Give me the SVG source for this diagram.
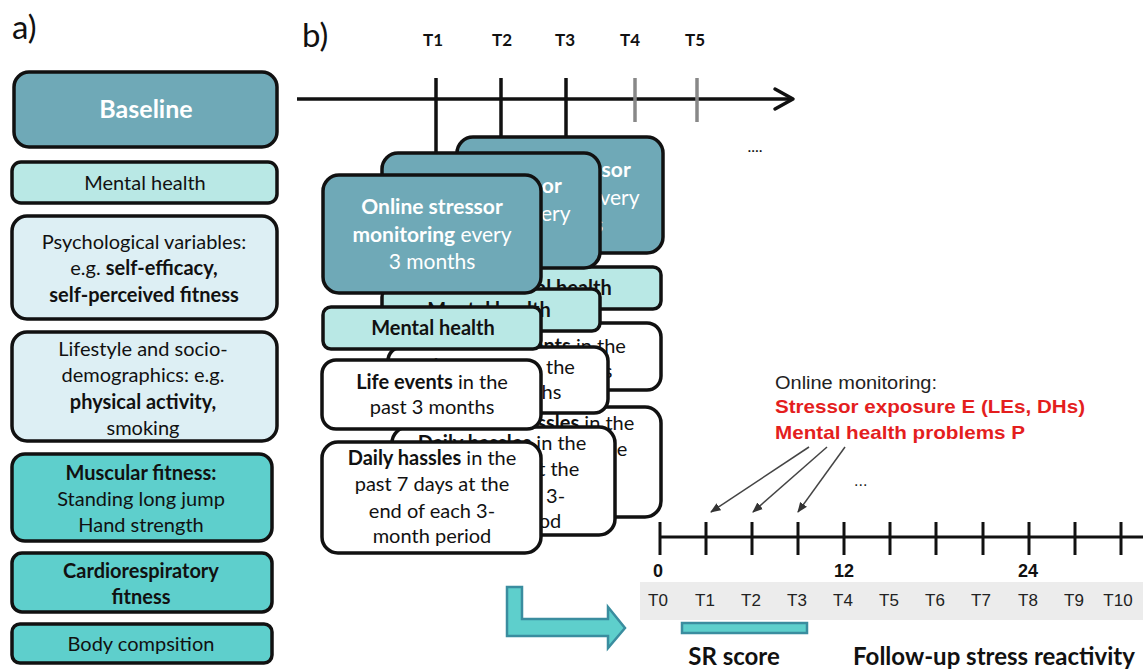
<svg xmlns="http://www.w3.org/2000/svg" width="1143" height="670" viewBox="0 0 1143 670">
<defs>
<style>
.f{font-family:Lato,"Open Sans",sans-serif;fill:#111;text-anchor:middle}
.a{font-family:"Liberation Sans",Arial,sans-serif}
.b{font-weight:bold}
.w{fill:#fff}
.box{stroke:#111;stroke-width:3.5}
.dark{fill:#6fa9b7}
.mh{fill:#b9e8e5}
.pale{fill:#ddeff4}
.teal{fill:#5ecfcc}
.wh{fill:#fff}
.s18{font-size:20px}
.s19{font-size:21px}
.red{fill:#e41e1e;font-weight:bold;font-size:19px}
</style>
<marker id="ah" viewBox="0 0 10 10" refX="9" refY="5" markerWidth="7" markerHeight="7" orient="auto">
<path d="M0,1 L10,5 L0,9 Z" fill="#333"/>
</marker>
</defs>
<rect width="1143" height="670" fill="#fff"/>

<text x="12" y="39" class="f" style="font-size:33px;text-anchor:start">a)</text>
<text x="302" y="47" class="f" style="font-size:33px;text-anchor:start">b)</text>

<!-- Left column -->
<g id="baseline"><rect x="14" y="72" width="263" height="75" rx="15" class="box dark"/>
<text x="146" y="118" class="f b w" style="font-size:25px">Baseline</text></g>
<g id="mental-health-a"><rect x="12" y="162" width="265" height="41" rx="9" class="box mh"/>
<text x="145" y="190" class="f s18">Mental  health</text></g>
<g id="psych"><rect x="12" y="216" width="265" height="103" rx="15" class="box pale"/>
<text x="144" y="249" class="f s18">Psychological variables:</text>
<text x="144" y="275" class="f s18">e.g. <tspan class="b">self-efficacy,</tspan></text>
<text x="144" y="302" class="f s18 b">self-perceived fitness</text></g>
<g id="lifestyle"><rect x="12" y="332" width="265" height="109" rx="15" class="box pale"/>
<text x="143" y="356" class="f s18">Lifestyle and socio-</text>
<text x="143" y="382" class="f s18">demographics: e.g.</text>
<text x="143" y="409" class="f s18 b">physical activity,</text>
<text x="143" y="435" class="f s18">smoking</text></g>
<g id="muscular"><rect x="12" y="454" width="260" height="87" rx="13" class="box teal"/>
<text x="141" y="480" class="f s18 b">Muscular fitness:</text>
<text x="141" y="506" class="f s18">Standing long jump</text>
<text x="141" y="532" class="f s18">Hand strength</text></g>
<g id="cardio"><rect x="12" y="553" width="260" height="59" rx="10" class="box teal"/>
<text x="141" y="578" class="f s18 b">Cardiorespiratory</text>
<text x="141" y="604" class="f s18 b">fitness</text></g>
<g id="body"><rect x="12" y="624" width="260" height="39" rx="8" class="box teal"/>
<text x="141" y="651" class="f s18">Body compsition</text></g>

<!-- Connectors -->
<g id="connectors" fill="none" stroke-linecap="butt">
<line x1="297" y1="99" x2="792" y2="99" stroke="#111" stroke-width="3.5"/>
<path d="M775,89 L793,99 L775,109" stroke="#111" stroke-width="3.5" stroke-linejoin="round" stroke-linecap="round"/>
<line x1="436" y1="78" x2="436" y2="176" stroke="#111" stroke-width="3.5"/>
<line x1="501" y1="78" x2="501" y2="154" stroke="#111" stroke-width="3.5"/>
<line x1="566" y1="78" x2="566" y2="138" stroke="#111" stroke-width="3.5"/>
<line x1="635" y1="78" x2="635" y2="122" stroke="#888" stroke-width="3.5"/>
<line x1="697" y1="78" x2="697" y2="122" stroke="#888" stroke-width="3.5"/>
<line x1="809" y1="447" x2="711" y2="512" stroke="#444" stroke-width="1.5" marker-end="url(#ah)"/>
<line x1="827" y1="447" x2="753" y2="512" stroke="#444" stroke-width="1.5" marker-end="url(#ah)"/>
<line x1="845" y1="447" x2="798" y2="512" stroke="#444" stroke-width="1.5" marker-end="url(#ah)"/>
</g>

<g id="top-labels">
<text x="433" y="46" class="f b" style="font-size:17px">T1</text>
<text x="502" y="46" class="f b" style="font-size:17px">T2</text>
<text x="565" y="46" class="f b" style="font-size:17px">T3</text>
<text x="630" y="46" class="f b" style="font-size:17px">T4</text>
<text x="695" y="46" class="f b" style="font-size:17px">T5</text>
<text x="755" y="152" class="f" style="font-size:16px">....</text>
</g>

<!-- Back stack -->
<g id="stack-back">
<rect x="457" y="407" width="204" height="110" rx="16" class="box wh"/>
<text x="550" y="430" class="f s18"><tspan class="b">Daily hassles</tspan> in the</text>
<text x="550" y="456" class="f s18">past 7 days at the</text>
<text x="550" y="483" class="f s18">end of each 3-</text>
<text x="550" y="508" class="f s18">month period</text>
<rect x="457" y="323" width="204" height="67" rx="14" class="box wh"/>
<text x="550" y="353" class="f s18"><tspan class="b">Life events</tspan> in the</text>
<text x="550" y="378" class="f s18">past 3 months</text>
<rect x="457" y="267" width="204" height="42" rx="8" class="box mh"/>
<text x="550" y="295" class="f s18 b">Mental  health</text>
<rect x="457" y="137" width="206" height="116" rx="16" class="box dark"/>
<text x="560" y="177" class="f s19 b w">Online stressor</text>
<text x="560" y="205" class="f s19 w"><tspan class="b">monitoring</tspan> every</text>
<text x="560" y="232" class="f s19 w">3 months</text>
</g>

<!-- Middle stack -->
<g id="stack-middle">
<rect x="392" y="427" width="223" height="108" rx="16" class="box wh"/>
<text x="502" y="450" class="f s18"><tspan class="b">Daily hassles</tspan> in the</text>
<text x="502" y="476" class="f s18">past 7 days at the</text>
<text x="502" y="503" class="f s18">end of each 3-</text>
<text x="502" y="528" class="f s18">month period</text>
<rect x="388" y="347" width="220" height="66" rx="14" class="box wh"/>
<text x="499" y="374" class="f s18"><tspan class="b">Life events</tspan> in the</text>
<text x="499" y="399" class="f s18">past 3 months</text>
<rect x="382" y="289" width="218" height="42" rx="8" class="box mh"/>
<text x="489" y="317" class="f s18 b">Mental  health</text>
<rect x="382" y="153" width="218" height="115" rx="16" class="box dark"/>
<text x="491" y="193" class="f s19 b w">Online stressor</text>
<text x="491" y="221" class="f s19 w"><tspan class="b">monitoring</tspan> every</text>
<text x="491" y="248" class="f s19 w">3 months</text>
</g>

<!-- Front stack -->
<g id="card-front"><rect x="323" y="175" width="218" height="118" rx="16" class="box dark"/>
<text x="432" y="214" class="f s19 b w">Online stressor</text>
<text x="432" y="242" class="f s19 w"><tspan class="b">monitoring</tspan> every</text>
<text x="432" y="269" class="f s19 w">3 months</text></g>
<g id="mental-health-b"><rect x="323" y="307" width="218" height="42" rx="8" class="box mh"/>
<text x="433" y="335" class="f s18 b">Mental  health</text></g>
<g id="life-events"><rect x="322" y="360" width="219" height="69" rx="14" class="box wh"/>
<text x="432" y="389" class="f s18"><tspan class="b">Life events</tspan> in the</text>
<text x="432" y="414" class="f s18">past 3 months</text></g>
<g id="daily-hassles"><rect x="322" y="442" width="219" height="111" rx="16" class="box wh"/>
<text x="432" y="465" class="f s18"><tspan class="b">Daily hassles</tspan> in the</text>
<text x="432" y="491" class="f s18">past 7 days at the</text>
<text x="432" y="518" class="f s18">end of each 3-</text>
<text x="432" y="543" class="f s18">month period</text></g>

<!-- Right: online monitoring -->
<g id="monitoring-note">
<text x="775" y="389" class="a" style="font-size:18px;fill:#222" textLength="162" lengthAdjust="spacingAndGlyphs">Online monitoring:</text>
<text x="775" y="413" class="a red" textLength="310" lengthAdjust="spacingAndGlyphs">Stressor exposure E (LEs, DHs)</text>
<text x="775" y="439" class="a red" textLength="250" lengthAdjust="spacingAndGlyphs">Mental health problems P</text>
<text x="854" y="486" class="a" style="font-size:16px;fill:#222">...</text>
</g>

<!-- Bottom timeline -->
<g id="timeline-b">
<rect x="640" y="582" width="503" height="38" fill="#ececec"/>
<line x1="660" y1="537" x2="1143" y2="537" stroke="#111" stroke-width="3"/>
<g stroke="#111" stroke-width="3">
<line x1="660" y1="522" x2="660" y2="555"/><line x1="706" y1="522" x2="706" y2="555"/>
<line x1="752" y1="522" x2="752" y2="555"/><line x1="798" y1="522" x2="798" y2="555"/>
<line x1="844" y1="522" x2="844" y2="555"/><line x1="890" y1="522" x2="890" y2="555"/>
<line x1="936" y1="522" x2="936" y2="555"/><line x1="983" y1="522" x2="983" y2="555"/>
<line x1="1029" y1="522" x2="1029" y2="555"/><line x1="1075" y1="522" x2="1075" y2="555"/>
<line x1="1121" y1="522" x2="1121" y2="555"/>
</g>
<g class="a b" style="font-size:18px;fill:#111;text-anchor:middle">
<text x="658" y="577">0</text><text x="844" y="577">12</text><text x="1028" y="577">24</text>
</g>
<g class="a" style="font-size:17px;fill:#222;text-anchor:middle">
<text x="658" y="606">T0</text><text x="705" y="606">T1</text><text x="751" y="606">T2</text>
<text x="797" y="606">T3</text><text x="843" y="606">T4</text><text x="889" y="606">T5</text>
<text x="935" y="606">T6</text><text x="981" y="606">T7</text><text x="1028" y="606">T8</text>
<text x="1074" y="606">T9</text><text x="1118" y="606">T10</text>
</g>
</g>

<g id="sr-bar"><rect x="682" y="623" width="125" height="10" fill="#5ecfcc" stroke="#3a8d9f" stroke-width="2.5"/></g>
<g id="l-arrow"><path d="M507,587 L522,587 L522,619 L608,619 L608,607 L625,628 L608,648 L608,636 L507,636 Z" fill="#5ecfcc" stroke="#3a8d9f" stroke-width="2.5" stroke-linejoin="miter"/></g>

<text x="734" y="665" class="f b" style="font-size:24px">SR score</text>
<text x="994" y="665" class="f b" style="font-size:24px">Follow-up stress reactivity</text>
</svg>
